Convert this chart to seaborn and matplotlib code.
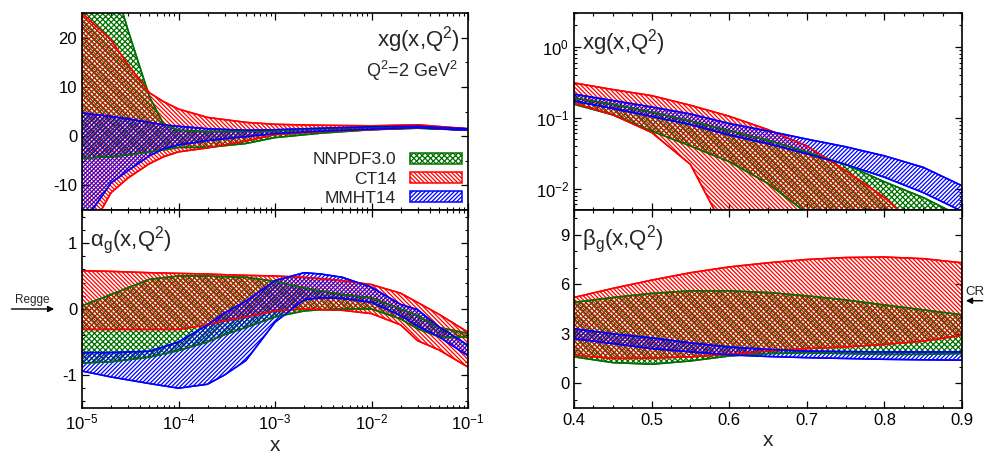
import numpy as np
import pandas as pd
import matplotlib
matplotlib.use("Agg")
import matplotlib.pyplot as plt
import matplotlib.ticker as mticker
import seaborn as sns

# ---------------- data ----------------
sets = ["NNPDF3.0", "CT14", "MMHT14"]
colors = ["#007000", "#ff0000", "#0000ff"]
hatches = ["xxxxxx", "\\" * 8, "/" * 8]

# panel 1: xg(x,Q^2), small x
x_small = [1e-5, 2e-5, 3e-5, 5e-5, 7e-5, 1e-4, 2e-4, 5e-4, 1e-3, 3e-3, 1e-2, 3e-2, 1e-1]
xg_nn_hi = [50, 33, 21.5, 8.0, 2.5, 1.2, 0.9, 1.0, 1.1, 1.5, 1.8, 2.0, 1.4]
xg_nn_lo = [-4.5, -4.2, -3.8, -3.2, -2.8, -2.3, -2.3, -1.5, -0.3, 0.6, 1.3, 1.6, 1.2]
xg_ct_hi = [25, 19.5, 14.5, 8.8, 7.0, 5.5, 3.8, 2.8, 2.4, 2.2, 2.1, 2.3, 1.5]
xg_ct_lo = [-22, -11.5, -8.5, -5.6, -4.2, -3.2, -2.4, -1.0, 0.3, 0.9, 1.3, 1.7, 1.2]
xg_mm_hi = [4.7, 4.0, 3.5, 2.8, 2.3, 2.0, 1.5, 1.2, 1.3, 1.6, 1.9, 2.0, 1.5]
xg_mm_lo = [-18, -9.5, -7.0, -4.0, -2.6, -1.8, -0.9, -0.1, 0.5, 1.0, 1.4, 1.7, 1.2]

# panel 2: alpha_g(x,Q^2)
x_alpha = [1e-5, 2e-5, 5e-5, 1e-4, 2e-4, 3e-4, 5e-4, 1e-3, 2e-3, 3e-3, 5e-3, 1e-2, 2e-2, 3e-2, 5e-2, 1e-1]
al_nn_hi = [0.05, 0.22, 0.45, 0.50, 0.50, 0.49, 0.48, 0.42, 0.32, 0.27, 0.22, 0.17, 0.0, -0.10, -0.28, -0.37]
al_nn_lo = [-0.82, -0.80, -0.73, -0.63, -0.50, -0.39, -0.28, -0.12, -0.03, -0.01, 0.0, 0.0, -0.15, -0.30, -0.42, -0.43]
al_ct_hi = [0.58, 0.57, 0.55, 0.54, 0.53, 0.52, 0.51, 0.50, 0.48, 0.46, 0.43, 0.37, 0.24, 0.10, -0.08, -0.35]
al_ct_lo = [-0.31, -0.31, -0.31, -0.31, -0.24, -0.18, -0.12, -0.03, 0.0, -0.01, -0.02, -0.07, -0.24, -0.48, -0.62, -0.88]
al_mm_hi = [-0.66, -0.66, -0.64, -0.50, -0.24, -0.06, 0.12, 0.43, 0.55, 0.53, 0.48, 0.33, 0.07, -0.01, -0.27, -0.55]
al_mm_lo = [-0.94, -1.03, -1.13, -1.20, -1.14, -1.00, -0.78, -0.20, 0.14, 0.17, 0.16, 0.10, -0.10, -0.26, -0.42, -0.71]

# panel 3: xg(x,Q^2), large x
x_large = [0.4, 0.45, 0.5, 0.55, 0.6, 0.65, 0.7, 0.75, 0.8, 0.85, 0.9]
xl_nn_hi = [0.19, 0.155, 0.12, 0.09, 0.066, 0.048, 0.033, 0.022, 0.0125, 0.0075, 0.004]
xl_nn_lo = [0.155, 0.11, 0.065, 0.04, 0.024, 0.0118, 0.0045, 0.002, 0.001, 0.0005, 0.0003]
xl_ct_hi = [0.31, 0.25, 0.205, 0.15, 0.105, 0.068, 0.04, 0.018, 0.0075, 0.0025, 0.001]
xl_ct_lo = [0.16, 0.11, 0.062, 0.022, 0.002, 0.0008, 0.0004, 0.0002, 0.0001, 0.0001, 0.0001]
xl_mm_hi = [0.215, 0.175, 0.142, 0.113, 0.083, 0.065, 0.05, 0.039, 0.029, 0.02, 0.011]
xl_mm_lo = [0.172, 0.135, 0.104, 0.08, 0.057, 0.043, 0.031, 0.022, 0.0145, 0.0088, 0.0048]

# panel 4: beta_g(x,Q^2)
be_nn_hi = [4.9, 5.2, 5.45, 5.6, 5.6, 5.5, 5.3, 5.05, 4.75, 4.45, 4.15]
be_nn_lo = [1.6, 1.25, 1.15, 1.35, 1.65, 1.8, 1.85, 1.8, 1.75, 1.75, 1.8]
be_ct_hi = [5.2, 5.75, 6.25, 6.7, 7.05, 7.3, 7.5, 7.62, 7.65, 7.55, 7.3]
be_ct_lo = [1.7, 1.5, 1.52, 1.6, 1.75, 1.95, 2.1, 2.2, 2.35, 2.55, 2.9]
be_mm_hi = [3.3, 3.0, 2.75, 2.45, 2.2, 2.05, 1.95, 1.92, 1.9, 1.9, 1.9]
be_mm_lo = [2.7, 2.4, 2.1, 1.9, 1.72, 1.62, 1.55, 1.5, 1.45, 1.42, 1.4]

regge_value = 0.0
cr_value = 5.0

# ---------------- style ----------------
sns.set_theme(style="ticks")
plt.rcParams.update({
    "font.family": ["Liberation Sans", "DejaVu Sans"],
    "mathtext.fontset": "custom",
    "mathtext.rm": "Liberation Sans",
    "mathtext.it": "Liberation Sans:italic",
    "mathtext.bf": "Liberation Sans:bold",
    "axes.unicode_minus": False,
    "xtick.direction": "in",
    "ytick.direction": "in",
    "xtick.top": True,
    "ytick.right": True,
    "xtick.major.size": 5,
    "ytick.major.size": 5,
    "xtick.minor.size": 2.5,
    "ytick.minor.size": 2.5,
    "xtick.major.width": 0.9,
    "ytick.major.width": 0.9,
    "xtick.minor.width": 0.8,
    "ytick.minor.width": 0.8,
    "axes.linewidth": 1.2,
    "axes.edgecolor": "black",
    "hatch.linewidth": 0.9,
    "xtick.labelsize": 12,
    "ytick.labelsize": 12,
    "xtick.color": "black",
    "ytick.color": "black",
})

fig = plt.figure(figsize=(9.84, 4.65), dpi=100)
W, H = 984.0, 465.0
ax_tl = fig.add_axes([82 / W, (H - 210) / H, 386 / W, 197 / H])
ax_bl = fig.add_axes([82 / W, (H - 408) / H, 386 / W, 198 / H])
ax_tr = fig.add_axes([574 / W, (H - 210) / H, 388 / W, 197 / H])
ax_br = fig.add_axes([574 / W, (H - 408) / H, 388 / W, 198 / H])


def draw_bands(ax, x, bands):
    for (lo, hi), name, col, hat in zip(bands, sets, colors, hatches):
        ax.fill_between(x, lo, hi, facecolor="none", edgecolor=col,
                        hatch=hat, linewidth=1.1, label=name, zorder=2)
        df = pd.DataFrame({"x": list(x) * 2, "y": list(lo) + list(hi),
                           "edge": ["lo"] * len(x) + ["hi"] * len(x)})
        sns.lineplot(data=df, x="x", y="y", units="edge", estimator=None,
                     color=col, lw=1.1, ax=ax, legend=False, zorder=3)


draw_bands(ax_tl, x_small, [(xg_nn_lo, xg_nn_hi), (xg_ct_lo, xg_ct_hi), (xg_mm_lo, xg_mm_hi)])
draw_bands(ax_bl, x_alpha, [(al_nn_lo, al_nn_hi), (al_ct_lo, al_ct_hi), (al_mm_lo, al_mm_hi)])
draw_bands(ax_tr, x_large, [(xl_nn_lo, xl_nn_hi), (xl_ct_lo, xl_ct_hi), (xl_mm_lo, xl_mm_hi)])
draw_bands(ax_br, x_large, [(be_nn_lo, be_nn_hi), (be_ct_lo, be_ct_hi), (be_mm_lo, be_mm_hi)])

# ---------------- axes ----------------
for ax in (ax_tl, ax_bl):
    ax.set_xscale("log")
    ax.set_xlim(1e-5, 1e-1)
    ax.xaxis.set_major_locator(mticker.LogLocator(base=10, numticks=10))
    ax.xaxis.set_minor_locator(mticker.LogLocator(base=10, subs=np.arange(2, 10), numticks=20))
for ax in (ax_tr, ax_br):
    ax.set_xlim(0.4, 0.9)
    ax.xaxis.set_major_locator(mticker.MultipleLocator(0.1))
    ax.xaxis.set_minor_locator(mticker.MultipleLocator(0.025))
    ax.xaxis.set_major_formatter(mticker.FormatStrFormatter("%.1f"))

ax_tl.set_ylim(-15, 25)
ax_tl.yaxis.set_major_locator(mticker.FixedLocator([-10, 0, 10, 20]))
ax_tl.yaxis.set_minor_locator(mticker.MultipleLocator(5))

ax_bl.set_ylim(-1.5, 1.5)
ax_bl.yaxis.set_major_locator(mticker.FixedLocator([-1, 0, 1]))
ax_bl.yaxis.set_minor_locator(mticker.MultipleLocator(0.2))
ax_bl.yaxis.set_major_formatter(mticker.FormatStrFormatter("%d"))

ax_tr.set_yscale("log")
ax_tr.set_ylim(0.005, 3)
ax_tr.yaxis.set_major_locator(mticker.LogLocator(base=10, numticks=10))
ax_tr.yaxis.set_minor_locator(mticker.LogLocator(base=10, subs=np.arange(2, 10), numticks=20))

ax_br.set_ylim(-1.5, 10.5)
ax_br.yaxis.set_major_locator(mticker.FixedLocator([0, 3, 6, 9]))
ax_br.yaxis.set_minor_locator(mticker.MultipleLocator(1))

for ax in (ax_tl, ax_tr):
    ax.tick_params(labelbottom=False)
for ax in (ax_tl, ax_bl, ax_tr, ax_br):
    ax.tick_params(which="both", top=True, right=True, direction="in")
    ax.set_xlabel("")
    ax.set_ylabel("")
    for s in ax.spines.values():
        s.set_zorder(5)
        s.set_linewidth(1.2)

ax_bl.set_xlabel("x", fontsize=15, labelpad=2)
ax_br.set_xlabel("x", fontsize=15, labelpad=2)

# ---------------- labels ----------------
ax_tl.text(0.979, 0.863, r"$\mathrm{xg(x{,}Q^2)}$", transform=ax_tl.transAxes,
           ha="right", va="center", fontsize=16)
ax_tl.text(0.974, 0.706, r"$\mathrm{Q^2}$=2 GeV$\mathrm{^2}$", transform=ax_tl.transAxes,
           ha="right", va="center", fontsize=13)
ax_tr.text(0.021, 0.848, r"$\mathrm{xg(x{,}Q^2)}$", transform=ax_tr.transAxes,
           ha="left", va="center", fontsize=16)
ax_bl.text(0.021, 0.848, r"$\mathrm{α_g(x{,}Q^2)}$", transform=ax_bl.transAxes,
           ha="left", va="center", fontsize=16)
ax_br.text(0.021, 0.853, r"$\mathrm{β_g(x{,}Q^2)}$", transform=ax_br.transAxes,
           ha="left", va="center", fontsize=16)

# Regge arrow
ax_bl.annotate("", xy=(-0.065, regge_value), xycoords=ax_bl.get_yaxis_transform(),
               xytext=(-0.19, regge_value), textcoords=ax_bl.get_yaxis_transform(),
               arrowprops=dict(arrowstyle="-|>", color="black", lw=1.0, mutation_scale=9),
               annotation_clip=False)
ax_bl.text(-0.128, regge_value + 0.09, "Regge", transform=ax_bl.get_yaxis_transform(),
           ha="center", va="baseline", fontsize=8.5)

# CR arrow
ax_br.annotate("", xy=(1.003, cr_value), xycoords=ax_br.get_yaxis_transform(),
               xytext=(1.06, cr_value), textcoords=ax_br.get_yaxis_transform(),
               arrowprops=dict(arrowstyle="-|>", color="black", lw=1.0, mutation_scale=9),
               annotation_clip=False)
ax_br.text(1.008, cr_value + 0.35, "CR", transform=ax_br.get_yaxis_transform(),
           ha="left", va="baseline", fontsize=9.5, clip_on=False)

# legend
leg = ax_tl.legend(loc="lower right", bbox_to_anchor=(0.985, 0.02), markerfirst=False,
                   frameon=False, handlelength=3.0, handleheight=0.6, handletextpad=0.8,
                   labelspacing=0.25, fontsize=12.5, borderpad=0.0, borderaxespad=0.0)

fig.savefig("out.png", dpi=100)
